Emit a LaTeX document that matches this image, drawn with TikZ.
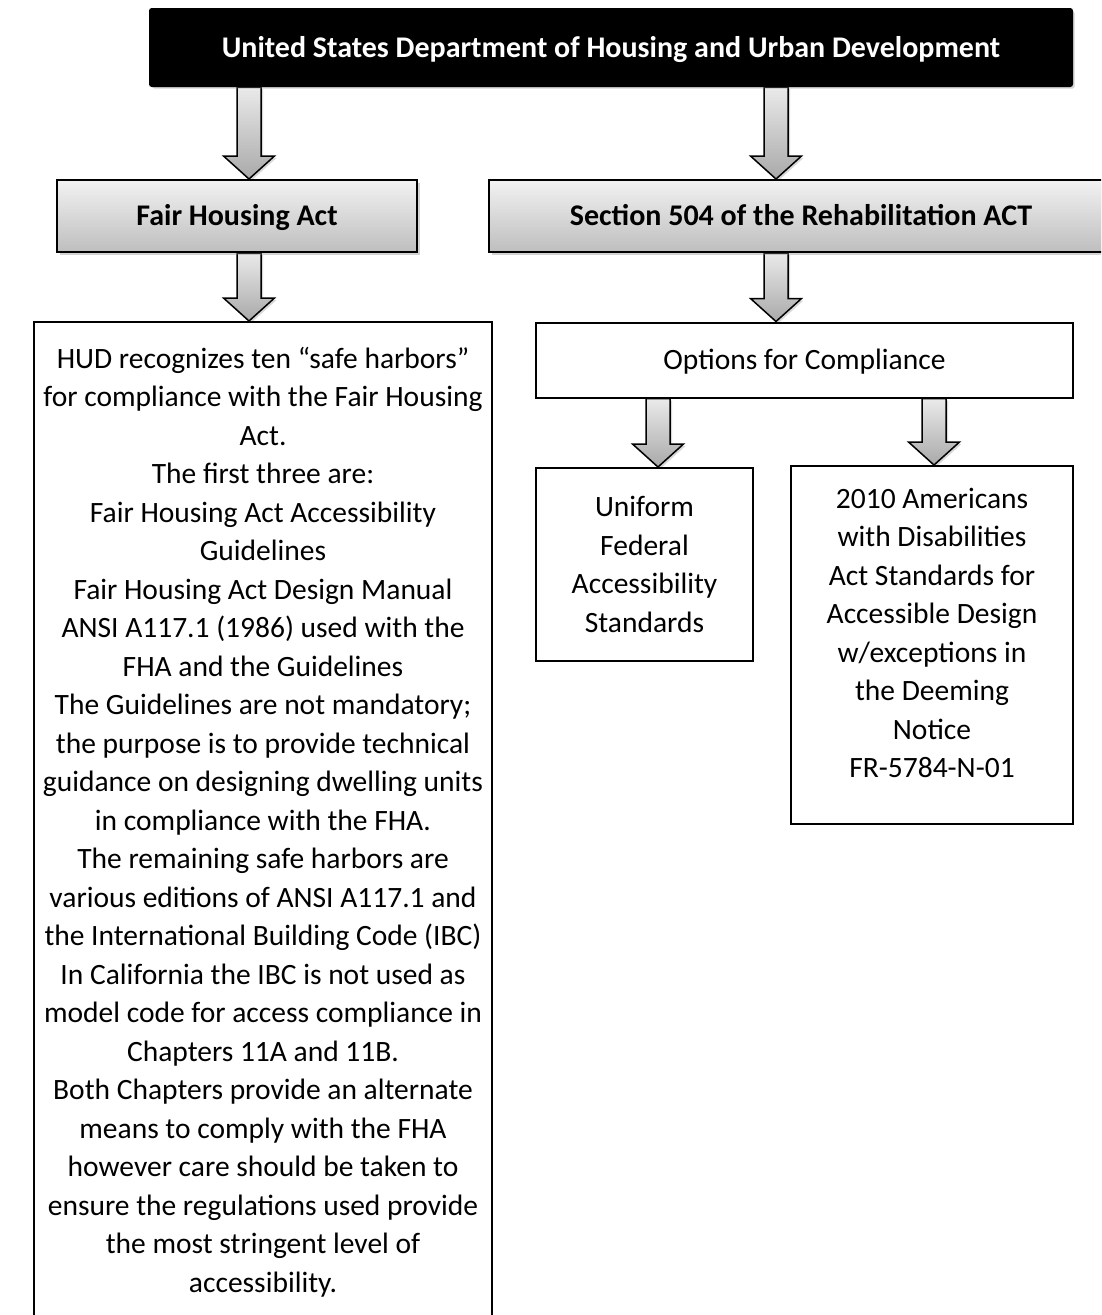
\documentclass[tikz,border=0pt]{standalone}
\usepackage{fontspec}
\setmainfont{Carlito}
\usetikzlibrary{calc,shadows,backgrounds}
\definecolor{boxtop}{HTML}{F2F2F2}
\definecolor{boxbot}{HTML}{BEBEBE}
\definecolor{arrtop}{HTML}{EAEAEA}
\definecolor{arrbot}{HTML}{A9A9A9}
\tikzset{
  regfont/.style={font=\fontsize{29.5}{38.5}\selectfont},
  boldfont/.style={font=\fontsize{30}{36}\selectfont\bfseries},
  capcenter/.style={text height=19pt, text depth=0pt},
  headbox/.style={draw=black, fill=black, text=white, line width=2pt, rounded corners=2pt,
    boldfont, inner sep=0pt, capcenter,
    drop shadow={opacity=0.35, shadow xshift=2.5pt, shadow yshift=-2.5pt}},
  graybox/.style={draw=black, line width=2pt, top color=boxtop, bottom color=boxbot,
    boldfont, inner sep=0pt, capcenter,
    drop shadow={opacity=0.35, shadow xshift=2.5pt, shadow yshift=-2.5pt}},
  whitebox/.style={draw=black, fill=white, line width=2pt, regfont, align=center, inner sep=0pt},
  barrow/.style={draw=black, line width=1.5pt, line join=miter, top color=arrtop, bottom color=arrbot,
    drop shadow={opacity=0.3, shadow xshift=2pt, shadow yshift=-2pt}}
}
% block arrow from node anchor #1 to node anchor #2 at horizontal position #3 (pt)
\newcommand\blockarrow[3]{%
  \path[barrow] let \p1=(#1), \p2=(#2) in
    (#3pt-12pt,\y1) -- (#3pt-12pt,\y2+23pt) -- (#3pt-25.5pt,\y2+23pt) -- (#3pt,\y2)
    -- (#3pt+25.5pt,\y2+23pt) -- (#3pt+12pt,\y2+23pt) -- (#3pt+12pt,\y1) -- cycle;}
\begin{document}
\begin{tikzpicture}[x=1pt,y=1pt]
\useasboundingbox (0,0) rectangle (1101,-1315);
\clip (0,0) rectangle (1101,-1315);

\node[headbox, minimum width=922pt, minimum height=77pt] (hud) at (611,-47.5)
  {United States Department of Housing and Urban Development};

\node[graybox, minimum width=360pt, minimum height=72pt] (fha) at (237,-216) {Fair Housing Act};
\node[graybox, minimum width=624pt, minimum height=72pt] (sec) at (801,-216) {Section 504 of the Rehabilitation ACT};

\node[whitebox, anchor=north, minimum width=458pt, inner ysep=25pt] (harbors) at (263,-321) {%
HUD recognizes ten “safe harbors”\\
for compliance with the Fair Housing\\
Act.\\
The first three are:\\
Fair Housing Act Accessibility\\
Guidelines\\
Fair Housing Act Design Manual\\
ANSI A117.1 (1986) used with the\\
FHA and the Guidelines\\
The Guidelines are not mandatory;\\
the purpose is to provide technical\\
guidance on designing dwelling units\\
in compliance with the FHA.\\
The remaining safe harbors are\\
various editions of ANSI A117.1 and\\
the International Building Code (IBC)\\
In California the IBC is not used as\\
model code for access compliance in\\
Chapters 11A and 11B.\\
Both Chapters provide an alternate\\
means to comply with the FHA\\
however care should be taken to\\
ensure the regulations used provide\\
the most stringent level of\\
accessibility.};

\node[whitebox, text height=18.6pt, text depth=0pt, minimum width=537pt, minimum height=75pt] (opt) at (804.5,-360) {Options for Compliance};

\node[whitebox, minimum width=217pt, minimum height=193pt] (ufas) at (644.5,-564.5)
  {Uniform\\Federal\\Accessibility\\Standards};
\node[whitebox, minimum width=282pt, minimum height=358pt] (ada) at (932,-645)
  {2010 Americans\\with Disabilities\\Act Standards for\\Accessible Design\\w/exceptions in\\the Deeming\\Notice\\FR-5784-N-01\\[-14.5pt]\mbox{}};

\begin{scope}[on background layer]
\blockarrow{hud.south}{fha.north}{249}
\blockarrow{hud.south}{sec.north}{776}
\blockarrow{fha.south}{harbors.north}{249}
\blockarrow{sec.south}{opt.north}{776}
\blockarrow{opt.south}{ufas.north}{658}
\blockarrow{opt.south}{ada.north}{934}
\end{scope}
\end{tikzpicture}
\end{document}
